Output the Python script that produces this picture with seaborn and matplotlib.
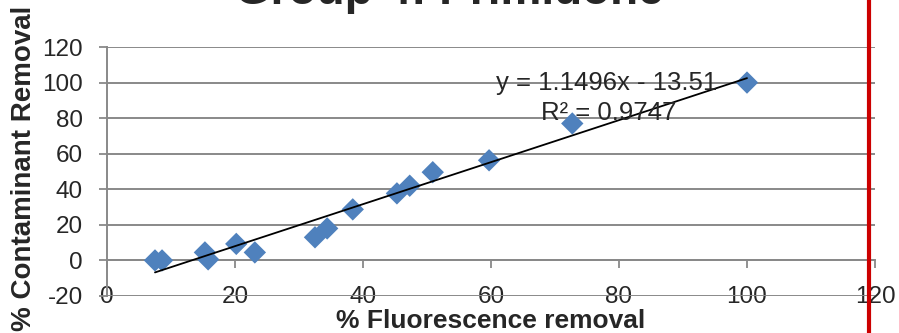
import matplotlib
matplotlib.use("Agg")
import matplotlib.pyplot as plt
import seaborn as sns
import pandas as pd
from matplotlib.lines import Line2D

# Data
fluorescence_removal = [7.5, 8.6, 15.3, 15.8, 20.2, 23.1, 32.5, 34.4, 38.4, 45.3, 47.3, 50.9, 59.7, 72.7, 100.0]
contaminant_removal = [0.0, 0.0, 4.5, 0.6, 9.3, 4.5, 13.0, 18.0, 28.7, 37.7, 42.0, 49.6, 56.3, 77.0, 100.0]
x_ticks = [0, 20, 40, 60, 80, 100, 120]
y_ticks = [-20, 0, 20, 40, 60, 80, 100, 120]
title = "Group 4: Primidone"
x_label = "% Fluorescence removal"
y_label = "% Contaminant Removal"
eq_line1 = "y = 1.1496x - 13.51"
eq_line2 = "R² = 0.9747"

df = pd.DataFrame({"fl": fluorescence_removal, "cr": contaminant_removal})

sns.set_style("white")
plt.rcParams["font.family"] = ["Liberation Sans", "DejaVu Sans"]

W, H = 899, 333
fig = plt.figure(figsize=(W / 100, H / 100), dpi=100)
ax = fig.add_axes([107 / W, 1 - 296 / H, (875 - 107) / W, (296 - 47) / H])

grid_c = "#898989"
sns.scatterplot(data=df, x="fl", y="cr", ax=ax, marker="D", s=130,
                color="#4F81BD", edgecolor="none", zorder=3)
sns.regplot(data=df, x="fl", y="cr", ax=ax, scatter=False, ci=None,
            truncate=True, line_kws={"color": "black", "lw": 1.3, "zorder": 4})

ax.set_xlim(0, 120)
ax.set_ylim(-20, 120)
ax.set_xticks(x_ticks)
ax.set_yticks(y_ticks)
ax.set_xticklabels([str(t) for t in x_ticks])
ax.set_yticklabels([str(t) for t in y_ticks])
ax.set_xlabel("")
ax.set_ylabel("")

ax.yaxis.grid(True, color=grid_c, lw=1.4)
ax.xaxis.grid(False)
ax.set_axisbelow(True)

for s in ["top", "right"]:
    ax.spines[s].set_visible(False)
ax.spines["bottom"].set_position(("data", 0))
ax.spines["bottom"].set_color(grid_c)
ax.spines["bottom"].set_linewidth(1.4)
ax.spines["left"].set_color(grid_c)
ax.spines["left"].set_linewidth(1.4)

ax.tick_params(axis="y", which="major", direction="out", length=5.5, width=1.3,
               color=grid_c, labelsize=17.5, pad=12, left=True)
ax.tick_params(axis="x", which="major", direction="out", length=5.5, width=1.3,
               color=grid_c, labelsize=17.5, pad=13, bottom=True)

ax.text(78.1, 99.7, eq_line1, ha="center", va="center", fontsize=18.5, zorder=5)
ax.text(78.4, 82.8, eq_line2, ha="center", va="center", fontsize=18.5, zorder=5)

fig.text(449 / W, 1 - 4 / H, title, ha="center", va="baseline",
         fontsize=33, fontweight="bold")
fig.text(491 / W, 1 - 321 / H, x_label, ha="center", va="center",
         fontsize=19, fontweight="bold")
fig.text(24 / W, 1 - 168 / H, y_label, ha="center", va="center",
         fontsize=20, fontweight="bold", rotation=90)

fig.add_artist(Line2D([869 / W, 869 / W], [0, 1], transform=fig.transFigure,
                      color="#CC0000", lw=3, zorder=10))

fig.savefig("out.png", dpi=100)
